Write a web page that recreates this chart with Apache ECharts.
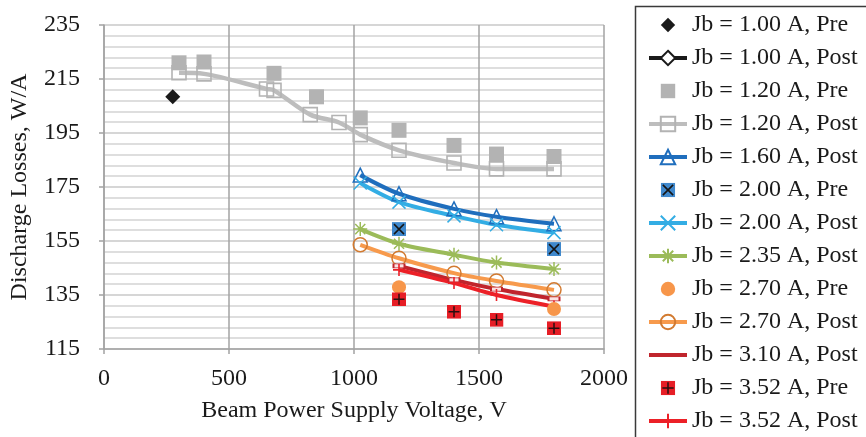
<!DOCTYPE html>
<html>
<head>
<meta charset="utf-8">
<script src="https://cdn.jsdelivr.net/npm/echarts@6/dist/echarts.min.js"></script>
<style>
html,body{margin:0;padding:0;background:#fff;}
#chart{width:866px;height:437px;}
</style>
</head>
<body>
<div id="chart"></div>
<script>
// ---- data (Beam Power Supply Voltage [V], Discharge Losses [W/A]) ----
const xTicks = [0, 500, 1000, 1500, 2000];
const yTicks = [115, 135, 155, 175, 195, 215, 235];

const seriesNames = [
  'Jb = 1.00 A, Pre', 'Jb = 1.00 A, Post', 'Jb = 1.20 A, Pre', 'Jb = 1.20 A, Post',
  'Jb = 1.60 A, Post', 'Jb = 2.00 A, Pre', 'Jb = 2.00 A, Post', 'Jb = 2.35 A, Post',
  'Jb = 2.70 A, Pre', 'Jb = 2.70 A, Post', 'Jb = 3.10 A, Post', 'Jb = 3.52 A, Pre',
  'Jb = 3.52 A, Post'
];

const jb100Pre  = [[275, 208.4]];
const jb100Post = [];
const jb120Pre  = [[300, 221.0], [400, 221.3], [680, 217.1], [850, 208.4], [1025, 200.6],
                   [1180, 196.0], [1400, 190.4], [1570, 187.2], [1800, 186.3]];
const jb120Post = [[300, 217.3], [400, 216.9], [650, 211.3], [680, 210.8], [825, 201.8],
                   [940, 198.9], [1025, 194.4], [1180, 188.6], [1400, 183.9], [1570, 181.7], [1800, 181.7]];
const jb160Post = [[1025, 179.4], [1180, 172.5], [1400, 166.9], [1570, 164.0], [1800, 161.4]];
const jb200Pre  = [[1180, 159.4], [1800, 152.0]];
const jb200Post = [[1025, 176.5], [1180, 169.4], [1400, 164.3], [1570, 161.0], [1800, 158.1]];
const jb235Post = [[1025, 159.4], [1180, 154.0], [1400, 149.9], [1570, 147.0], [1800, 144.6]];
const jb270Pre  = [[1180, 137.9], [1800, 129.8]];
const jb270Post = [[1025, 153.6], [1180, 148.6], [1400, 143.1], [1570, 140.2], [1800, 136.9]];
const jb310Post = [[1180, 145.8], [1400, 140.6], [1570, 137.2], [1800, 133.6]];
const jb352Pre  = [[1180, 133.4], [1400, 128.8], [1570, 125.8], [1800, 122.7]];
const jb352Post = [[1180, 144.3], [1400, 139.4], [1570, 135.0], [1800, 130.7]];

// ---- styling ----
const FONT = '"Liberation Serif", "Times New Roman", serif';
const TXT = '#1a1a1a';

function svgSym(svg) {
  return 'image://data:image/svg+xml;utf8,' + encodeURIComponent(svg);
}
const symBlueX = svgSym("<svg xmlns='http://www.w3.org/2000/svg' width='28' height='28'><rect width='28' height='28' fill='#3f88cc'/><path d='M4,4L24,24M24,4L4,24' stroke='#151515' stroke-width='3'/></svg>");
const symRedPlus = svgSym("<svg xmlns='http://www.w3.org/2000/svg' width='28' height='28'><rect width='28' height='28' fill='#e61e26'/><path d='M14,3V25M3,14H25' stroke='#2a1010' stroke-width='3'/></svg>");
const pathX = 'path://M0,0L10,10M10,0L0,10';
const pathStar = 'path://M5,0L5,10M0,5L10,5M1.4,1.4L8.6,8.6M8.6,1.4L1.4,8.6';
const pathPlus = 'path://M5,0L5,10M0,5L10,5';

function lineSeries(name, data, color, width, symbol, size, itemStyle) {
  return {
    name: name, type: 'line', data: data,
    smooth: 0.3,
    showSymbol: true, symbol: symbol, symbolSize: size,
    lineStyle: { color: color, width: width },
    itemStyle: itemStyle,
    emphasis: { disabled: true },
    animation: false, z: 3
  };
}
function markerSeries(name, data, symbol, size, itemStyle) {
  return {
    name: name, type: 'line', data: data,
    showSymbol: true, symbol: symbol, symbolSize: size, itemStyle: itemStyle,
    lineStyle: { width: 0, opacity: 0 },
    emphasis: { disabled: true }, animation: false, z: 4
  };
}

const series = [
  markerSeries(seriesNames[0], jb100Pre, 'diamond', 15, { color: '#1a1a1a' }),
  lineSeries(seriesNames[1], jb100Post, '#1a1a1a', 4, 'diamond', 12,
    { color: '#ffffff', borderColor: '#1a1a1a', borderWidth: 1.5 }),
  markerSeries(seriesNames[2], jb120Pre, 'rect', 15, { color: '#b3b3b3' }),
  lineSeries(seriesNames[3], jb120Post, '#bdbdbd', 4.5, 'rect', 14,
    { color: 'rgba(255,255,255,0)', borderColor: '#b3b3b3', borderWidth: 1.6 }),
  lineSeries(seriesNames[4], jb160Post, '#1f6ebd', 4, 'triangle', 14,
    { color: 'rgba(255,255,255,0)', borderColor: '#1f6ebd', borderWidth: 1.5 }),
  markerSeries(seriesNames[5], jb200Pre, symBlueX, 14, {}),
  lineSeries(seriesNames[6], jb200Post, '#33ade4', 4, pathX, 13,
    { color: 'none', borderColor: '#33ade4', borderWidth: 1.5 }),
  lineSeries(seriesNames[7], jb235Post, '#9bbb59', 4, pathStar, 14,
    { color: 'none', borderColor: '#9bbb59', borderWidth: 1.5 }),
  markerSeries(seriesNames[8], jb270Pre, 'circle', 14, { color: '#f7964a' }),
  lineSeries(seriesNames[9], jb270Post, '#f79a4c', 4, 'circle', 14,
    { color: 'rgba(255,255,255,0)', borderColor: '#d27a30', borderWidth: 1.5 }),
  lineSeries(seriesNames[10], jb310Post, '#c0252d', 4, 'rect', [11, 4],
    { color: '#fbe3e3', borderColor: '#c0252d', borderWidth: 1.2 }),
  markerSeries(seriesNames[11], jb352Pre, symRedPlus, 14, {}),
  lineSeries(seriesNames[12], jb352Post, '#ec2027', 4, pathPlus, 12,
    { color: 'none', borderColor: '#ec2027', borderWidth: 1.6 })
];

const legendData = seriesNames.map(function (n, i) {
  if (i === 10) return { name: n, icon: 'path://M0,0H40V4H0Z', itemStyle: { color: '#c0252d', borderWidth: 0 } };
  return { name: n };
});

const plainNum = function (v) { return String(v); };

const chart = echarts.init(document.getElementById('chart'), null, { renderer: 'canvas' });
chart.setOption({
  backgroundColor: '#ffffff',
  animation: false,
  textStyle: { fontFamily: FONT },
  grid: { left: 101, right: 262, top: 25, bottom: 88, containLabel: false },
  graphic: [{
    type: 'rect', z: 0, silent: true,
    shape: { x: 635.5, y: 6.5, width: 300, height: 500 },
    style: { fill: '#ffffff', stroke: '#3a3a3a', lineWidth: 1.5 }
  }],
  legend: {
    orient: 'vertical', left: 647, top: 13, padding: 0,
    itemWidth: 38, itemHeight: 18, itemGap: 9,
    data: legendData,
    selectedMode: false,
    lineStyle: { width: 4 },
    textStyle: { fontFamily: FONT, fontSize: 24, lineHeight: 24, color: TXT },
    z: 10
  },
  xAxis: {
    type: 'value', min: xTicks[0], max: xTicks[xTicks.length - 1], interval: 500,
    name: 'Beam Power Supply Voltage, V', nameLocation: 'middle', nameGap: 50,
    nameTextStyle: { fontFamily: FONT, fontSize: 24, color: TXT },
    axisLine: { show: true, onZero: false, lineStyle: { color: '#a3a3a3', width: 1.5 } },
    axisTick: { show: true, length: 5, lineStyle: { color: '#a3a3a3', width: 1.5 } },
    axisLabel: { margin: 18, fontFamily: FONT, fontSize: 24, color: TXT, formatter: plainNum },
    splitLine: { show: true, lineStyle: { color: '#a3a3a3', width: 1.5 } }
  },
  yAxis: {
    type: 'value', min: yTicks[0], max: yTicks[yTicks.length - 1], interval: 20,
    name: 'Discharge Losses, W/A', nameLocation: 'middle', nameGap: 72, nameRotate: 90,
    nameTextStyle: { fontFamily: FONT, fontSize: 24, color: TXT },
    axisLine: { show: true, onZero: false, lineStyle: { color: '#a3a3a3', width: 1.5 } },
    axisTick: { show: true, length: 5, lineStyle: { color: '#a3a3a3', width: 1.5 } },
    axisLabel: { margin: 24, fontFamily: FONT, fontSize: 24, color: TXT, formatter: plainNum },
    splitLine: { show: true, lineStyle: { color: '#c9c9c9', width: 1.5 } },
    minorTick: { show: false, splitNumber: 5 },
    minorSplitLine: { show: true, lineStyle: { color: '#d3d3d3', width: 1.5 } }
  },
  series: series
});
</script>
</body>
</html>
